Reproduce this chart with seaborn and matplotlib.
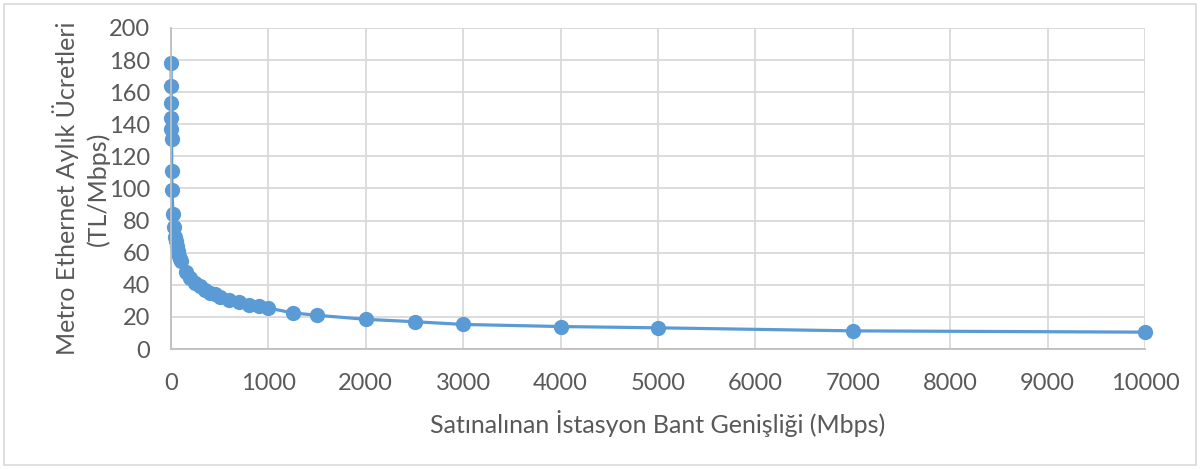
import matplotlib
matplotlib.use("Agg")
import matplotlib.pyplot as plt
import seaborn as sns
import pandas as pd
from matplotlib.patches import Rectangle

# bandwidth (Mbps) and monthly price (TL/Mbps)
bandwidth = [1, 2, 3, 4, 5, 6, 8, 10, 20, 30, 40, 50, 60, 70, 80, 90, 100,
             150, 200, 250, 300, 350, 400, 450, 500, 600, 700, 800, 900, 1000,
             1250, 1500, 2000, 2500, 3000, 4000, 5000, 7000, 10000]
price = [178, 164, 153, 144, 137, 131, 111, 99, 84, 76, 70, 67, 64, 61, 58, 56, 55,
         48, 44, 41, 39, 37, 35, 34, 32.5, 30.5, 29, 27.5, 26.5, 25.5,
         22.5, 21, 18.5, 17, 15.3, 14, 13.2, 11.3, 10.5]

x_ticks = list(range(0, 10001, 1000))
y_ticks = list(range(0, 201, 20))

df = pd.DataFrame({"bw": bandwidth, "price": price})

sns.set_theme(style="whitegrid")
plt.rcParams["font.family"] = ["Lato", "DejaVu Sans"]

fig = plt.figure(figsize=(12.01, 4.69), dpi=100)
ax = fig.add_axes([171 / 1201, 1 - 349 / 469, (1145 - 171) / 1201, (349 - 28) / 469])

sns.lineplot(data=df, x="bw", y="price", ax=ax, color="#5B9BD5", linewidth=2.3,
             marker="o", markersize=11, markeredgewidth=0, sort=False, clip_on=False)

ax.set_xlim(0, 10000)
ax.set_ylim(0, 200)
ax.set_xticks(x_ticks)
ax.set_yticks(y_ticks)
ax.grid(True, color="#D9D9D9", linewidth=1.3)
for side in ["top", "right"]:
    ax.spines[side].set_visible(False)
for side in ["left", "bottom"]:
    ax.spines[side].set_color("#BFBFBF")
    ax.spines[side].set_linewidth(1.3)
ax.tick_params(axis="y", labelsize=17, colors="#595959", length=0, pad=15)
ax.tick_params(axis="x", labelsize=17, colors="#595959", length=0, pad=17)

ax.set_xlabel("Satınalınan İstasyon Bant Genişliği (Mbps)", fontsize=18, color="#595959", labelpad=12)
ax.set_ylabel("Metro Ethernet Aylık Ücretleri\n(TL/Mbps)", fontsize=18, color="#595959",
              labelpad=-1, linespacing=1.4)

fig.patches.append(Rectangle((4 / 1201, 4 / 469), 1192 / 1201, 461 / 469, transform=fig.transFigure,
                             fill=False, edgecolor="#D9D9D9", linewidth=1.2))

fig.savefig("out.png", dpi=100)
